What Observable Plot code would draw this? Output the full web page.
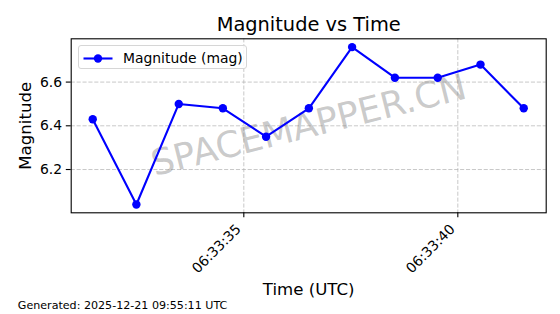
<!DOCTYPE html>
<html>
<head>
<meta charset="utf-8">
<script src="https://cdn.jsdelivr.net/npm/d3@7"></script>
<script src="https://cdn.jsdelivr.net/npm/@observablehq/plot@0.6"></script>
<style>
  html, body { margin: 0; padding: 0; background: white; }
  #wrap { position: relative; width: 560px; height: 314px; font-family: "DejaVu Sans", sans-serif; }
  #legend { position: absolute; left: 77.5px; top: 45px; width: 169px; height: 24px;
    border: 1px solid #d6d6d6; border-radius: 3px; background: rgba(255,255,255,0.8);
    box-sizing: border-box; }
  #legend svg { position: absolute; left: 0; top: 0; }
</style>
</head>
<body>
<div id="wrap"></div>
<script>
// ---- data ----
const times = [
  "2025-12-21T06:33:31.47Z", "2025-12-21T06:33:32.49Z", "2025-12-21T06:33:33.48Z",
  "2025-12-21T06:33:34.51Z", "2025-12-21T06:33:35.52Z", "2025-12-21T06:33:36.52Z",
  "2025-12-21T06:33:37.53Z", "2025-12-21T06:33:38.53Z", "2025-12-21T06:33:39.53Z",
  "2025-12-21T06:33:40.53Z", "2025-12-21T06:33:41.54Z"
];
const magnitudes = [6.43, 6.04, 6.50, 6.48, 6.35, 6.48, 6.76, 6.62, 6.62, 6.68, 6.48];
const xTickTimes = ["2025-12-21T06:33:35Z", "2025-12-21T06:33:40Z"];
const xDomainTimes = ["2025-12-21T06:33:30.967Z", "2025-12-21T06:33:42.065Z"];
const yTicks = [6.2, 6.4, 6.6];
const yDomain = [6.002, 6.798];
const titleText = "Magnitude vs Time";
const xLabel = "Time (UTC)";
const yLabel = "Magnitude";
const seriesLabel = "Magnitude (mag)";
const watermark = "SPACEMAPPER.CN";
const footer = "Generated: 2025-12-21 09:55:11 UTC";

const data = times.map((t, i) => ({time: new Date(t), mag: magnitudes[i]}));
const xTicks = xTickTimes.map(t => new Date(t));
const fmt = d3.utcFormat("%H:%M:%S");
const font = "DejaVu Sans";

const plot = Plot.plot({
  width: 560,
  height: 314,
  marginLeft: 70.7,
  marginRight: 14.3,
  marginTop: 38.3,
  marginBottom: 101.7,
  style: {fontFamily: font, fontSize: "13.9px", color: "black", background: "white", overflow: "visible"},
  x: {type: "utc", domain: xDomainTimes.map(t => new Date(t))},
  y: {domain: yDomain},
  marks: [
    Plot.gridX(xTicks, {stroke: "#b0b0b0", strokeOpacity: 0.7, strokeWidth: 1, strokeDasharray: "4.1,1.8"}),
    Plot.gridY(yTicks, {stroke: "#b0b0b0", strokeOpacity: 0.7, strokeWidth: 1, strokeDasharray: "4.1,1.8"}),
    Plot.text([watermark], {frameAnchor: "middle", text: d => d, rotate: -14, fontSize: 36,
      fill: "gray", fillOpacity: 0.42, textAnchor: "middle", lineAnchor: "middle"}),
    Plot.line(data, {x: "time", y: "mag", stroke: "#0000ff", strokeWidth: 2.1}),
    Plot.dot(data, {x: "time", y: "mag", r: 4.2, fill: "#0000ff", stroke: "none"}),
    Plot.frame({stroke: "black", strokeWidth: 1.1}),
    Plot.axisY({ticks: yTicks, tickFormat: d => d.toFixed(1), tickSize: 4.9, tickPadding: 4.3,
      label: null, fontSize: 13.9, strokeWidth: 1.1}),
    Plot.axisX({ticks: xTicks, tickFormat: () => "", tickSize: 4.9, label: null, strokeWidth: 1.1}),
    Plot.text(xTicks, {x: d => d, frameAnchor: "bottom", text: d => fmt(d), rotate: -45,
      textAnchor: "end", lineAnchor: "middle", dx: -5.2, dy: 14.0, fontSize: 13.9, fill: "black"}),
    Plot.text([titleText], {frameAnchor: "top", text: d => d, lineAnchor: "bottom", dy: -8.3,
      fontSize: 19.4, fill: "black"}),
    Plot.text([xLabel], {frameAnchor: "bottom", text: d => d, lineAnchor: "bottom", dy: 81.7,
      fontSize: 16.6, fill: "black"}),
    Plot.text([yLabel], {frameAnchor: "left", text: d => d, rotate: -90, lineAnchor: "middle",
      textAnchor: "middle", dx: -45.5, fontSize: 16.6, fill: "black"}),
    Plot.text([footer], {frameAnchor: "bottom-left", text: d => d, textAnchor: "start", lineAnchor: "bottom",
      dx: -53.4, dy: 96.2, fontSize: 11.1, fill: "black"})
  ]
});

const wrap = document.getElementById("wrap");
wrap.appendChild(plot);

// legend (matplotlib-style box, upper left)
const legend = document.createElement("div");
legend.id = "legend";
legend.innerHTML = `<svg width="169" height="24" xmlns="http://www.w3.org/2000/svg">
  <line x1="4.5" x2="33.5" y1="12.5" y2="12.5" stroke="#0000ff" stroke-width="2.1"/>
  <circle cx="19" cy="12.5" r="4.2" fill="#0000ff"/>
  <text x="44" y="17.3" font-family="${font}" font-size="13.9" fill="black">${seriesLabel}</text>
</svg>`;
wrap.appendChild(legend);
</script>
</body>
</html>
